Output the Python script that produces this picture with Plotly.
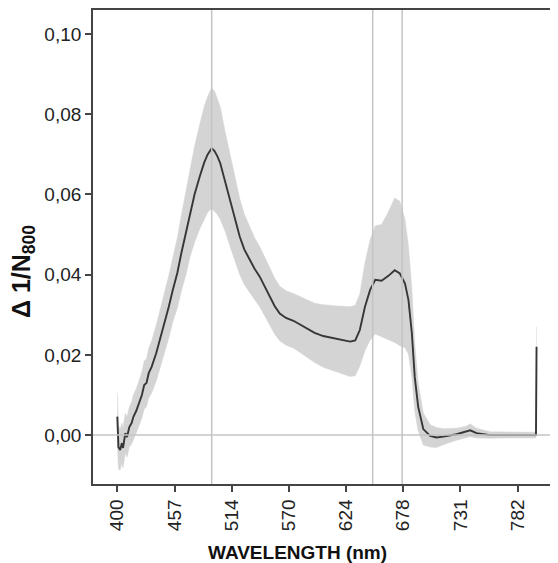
import plotly.graph_objects as go

# Spectrometer channel positions (axis is evenly spaced by channel; ticks every 100 channels)
channel = [0, 2, 5, 8, 10, 14, 17, 21, 25, 28, 33, 38, 43, 47, 51, 55, 60, 68, 75, 83,
           90, 97, 105, 112, 120, 127, 135, 144, 152, 158, 165, 170, 175, 180, 188, 197,
           205, 214, 222, 232, 240, 249, 258, 267, 275, 284, 295, 308, 320, 331, 345,
           360, 372, 384, 396, 407, 416, 424, 433, 442, 451, 462, 474, 485, 494, 503,
           509, 515, 520, 526, 535, 547, 558, 570, 593, 610, 617, 628, 652, 680, 705,
           727, 732, 733]

mean_vals = [0.0046, -0.0030, -0.0037, -0.0020, -0.0032, 0.0005, -0.0005, 0.0020, 0.0030,
             0.0045, 0.0060, 0.0080, 0.0100, 0.0125, 0.0130, 0.0155, 0.0170, 0.0204, 0.0240,
             0.0287, 0.0320, 0.0362, 0.0405, 0.0454, 0.0505, 0.0554, 0.0600, 0.0644, 0.0680,
             0.0700, 0.0715, 0.0708, 0.0695, 0.0678, 0.0635, 0.0586, 0.0540, 0.0495, 0.0463,
             0.0436, 0.0415, 0.0395, 0.0370, 0.0345, 0.0322, 0.0303, 0.0292, 0.0285, 0.0275,
             0.0267, 0.0255, 0.0247, 0.0243, 0.0239, 0.0236, 0.0233, 0.0236, 0.0262, 0.0320,
             0.0362, 0.0387, 0.0385, 0.0397, 0.0411, 0.0403, 0.0378, 0.0337, 0.0254, 0.0145,
             0.0071, 0.0015, -0.0002, -0.0006, -0.0004, 0.0002, 0.0008, 0.0012, 0.0005,
             0.0000, 0.0000, 0.0000, -0.0001, 0.0000, 0.0220]

sd_vals = [0.0060, 0.0055, 0.0050, 0.0050, 0.0050, 0.0050, 0.0050, 0.0050, 0.0052, 0.0055,
           0.0055, 0.0057, 0.0058, 0.0060, 0.0060, 0.0062, 0.0065, 0.0070, 0.0072, 0.0075,
           0.0078, 0.0080, 0.0088, 0.0095, 0.0105, 0.0110, 0.0120, 0.0130, 0.0140, 0.0145,
           0.0150, 0.0150, 0.0145, 0.0140, 0.0125, 0.0115, 0.0105, 0.0095, 0.0088, 0.0080,
           0.0077, 0.0075, 0.0073, 0.0072, 0.0070, 0.0068, 0.0068, 0.0068, 0.0070, 0.0072,
           0.0074, 0.0078, 0.0080, 0.0083, 0.0085, 0.0087, 0.0088, 0.0090, 0.0110, 0.0125,
           0.0135, 0.0140, 0.0160, 0.0180, 0.0180, 0.0160, 0.0135, 0.0110, 0.0085, 0.0060,
           0.0040, 0.0028, 0.0025, 0.0020, 0.0015, 0.0014, 0.0016, 0.0012, 0.0008, 0.0007,
           0.0007, 0.0007, 0.0007, 0.0050]

tick_channels = [0, 100, 200, 300, 400, 500, 600, 700]
tick_labels = ["400", "457", "514", "570", "624", "678", "731", "782"]
ref_channels = [165, 446.5, 498]

upper = [m + s for m, s in zip(mean_vals, sd_vals)]
lower = [m - s for m, s in zip(mean_vals, sd_vals)]

fig = go.Figure()
fig.add_trace(go.Scatter(x=channel, y=lower, mode="lines", line=dict(width=0.5, color="#d4d4d4"),
                         showlegend=False, hoverinfo="skip"))
fig.add_trace(go.Scatter(x=channel, y=upper, mode="lines", line=dict(width=0.5, color="#d4d4d4"),
                         fill="tonexty", fillcolor="#d4d4d4", showlegend=False, hoverinfo="skip"))
fig.add_trace(go.Scatter(x=channel, y=mean_vals, mode="lines", line=dict(width=1.9, color="#363636"),
                         showlegend=False))

shapes = [dict(type="line", xref="paper", yref="y", x0=0, x1=1, y0=0, y1=0,
               line=dict(color="#c4c4c4", width=1.5), layer="above")]
for c in ref_channels:
    shapes.append(dict(type="line", xref="x", yref="paper", x0=c, x1=c, y0=0, y1=1,
                       line=dict(color="#c4c4c4", width=1.5), layer="above"))

font_family = "Liberation Sans, Arial, sans-serif"
# The page adds an 8 px body margin, so the figure is 8 px smaller than the window.
fig.update_layout(
    width=550, height=555,
    margin=dict(l=85, r=0, t=2, b=79),
    paper_bgcolor="white", plot_bgcolor="white",
    separators=",.",
    font=dict(family=font_family, size=19, color="#222222"),
    shapes=shapes,
    xaxis=dict(range=[-42.5, 770.5], tickvals=tick_channels, ticktext=tick_labels,
               tickangle=-90, ticks="outside", ticklen=6, tickwidth=1.5, tickcolor="#444444",
               showline=True, linecolor="#444444", linewidth=1.8, mirror=True,
               showgrid=False, zeroline=False, tickfont=dict(size=19)),
    yaxis=dict(range=[-0.0122, 0.106], tickvals=[0, 0.02, 0.04, 0.06, 0.08, 0.10],
               tickformat=".2f", ticks="outside", ticklen=6, tickwidth=1.5, tickcolor="#444444",
               showline=True, linecolor="#444444", linewidth=1.8, mirror=False,
               showgrid=False, zeroline=False, tickfont=dict(size=19)),
    annotations=[
        dict(text="<b>WAVELENGTH (nm)</b>", xref="paper", yref="paper",
             x=(289.5 - 85) / 465, y=(476 - 544) / 474, xanchor="center", yanchor="middle",
             showarrow=False, font=dict(size=19, color="#111111")),
        dict(text="<b>Δ 1/N<sub>800</sub></b>", xref="paper", yref="paper",
             x=(15 - 85) / 465, y=(476 - 264) / 474, xanchor="center", yanchor="middle",
             textangle=-90, showarrow=False, font=dict(size=25, color="#111111")),
    ],
)

fig.write_html("out.html")
